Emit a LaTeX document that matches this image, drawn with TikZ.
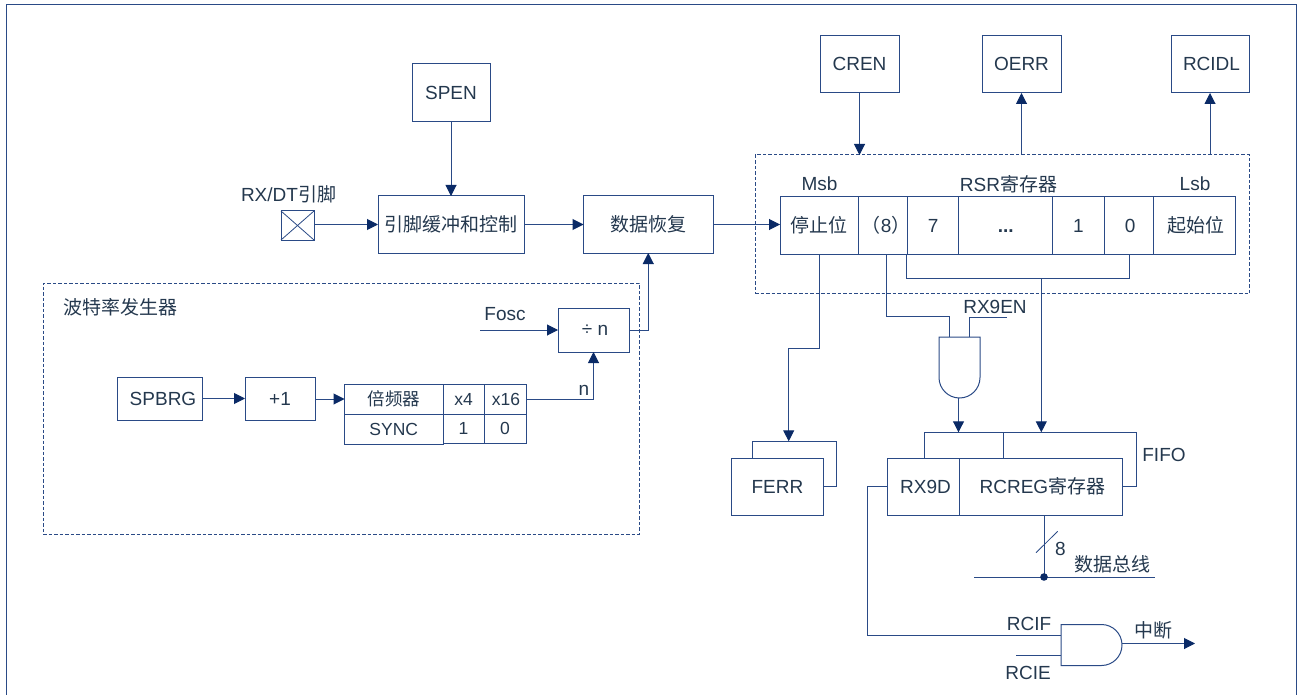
\documentclass[tikz,border=0pt]{standalone}
\usepackage{fontspec}
\setmainfont{Liberation Sans}
\newfontfamily\cjk{Noto Sans CJK SC}
\usetikzlibrary{arrows.meta,calc}
\definecolor{ln}{HTML}{2A4A86}
\definecolor{arr}{HTML}{0A2A66}
\definecolor{tx}{HTML}{24384E}
\tikzset{
  x=1pt,y=-1pt,
  wire/.style={draw=ln,line width=1pt},
  arrw/.style={wire,-{Triangle[length=11pt,width=11pt,color=arr]}},
  dbox/.style={draw=ln,line width=1pt,dash pattern=on 3.5pt off 2pt,inner sep=0pt,outer sep=0pt,anchor=north west},
  cell/.style={draw=ln,line width=1pt,inner sep=0pt,outer sep=0pt,anchor=north west,text=tx,font=\fontsize{19}{22}\selectfont,align=center},
  lab/.style={inner sep=0pt,text=tx,font=\fontsize{19}{22}\selectfont}
}
\newcommand{\cell}[6]{\node[cell,minimum width=#4-#2,minimum height=#5-#3] (#1) at (#2,#3) {#6};}
\newcommand{\tbl}{\fontsize{17.5}{20}\selectfont}
\begin{document}
\begin{tikzpicture}
\useasboundingbox (0,0) rectangle (1298,695);
% frame
\coordinate (fa) at (6,695);
\coordinate (fb) at (6,5);
\coordinate (fc) at (1296.5,5);
\coordinate (fd) at (1296.5,695);
\draw[draw=ln,line width=1pt] (fa) -- (fb) -- (fc) -- (fd);
\node[dbox,minimum width=494.5,minimum height=138.7] (rsr) at (755,155) {};
\node[dbox,minimum width=596,minimum height=251] (baud) at (43,283) {};
% top boxes
\cell{spen}{412}{64}{490}{121.5}{SPEN}
\cell{cren}{820}{36}{899}{93}{\raisebox{1pt}{CREN}}
\cell{oerr}{982}{36}{1061}{93}{\raisebox{1pt}{OERR}}
\cell{rcidl}{1171}{36}{1249}{93}{\hspace{3pt}\raisebox{1pt}{RCIDL}}
% pin
\cell{pin}{281}{211}{314}{240}{}
\draw[wire,line width=.8pt] (pin.north west) -- (pin.south east) (pin.north east) -- (pin.south west);
\cell{buf}{378}{196}{524}{253}{{\cjk 引脚缓冲和控制}}
\cell{rec}{583.5}{196}{713}{253}{{\cjk 数据恢复}}
% RSR
\cell{stop}{780}{197}{858}{254}{{\cjk 停止位}}
\cell{b8}{858}{197}{907.5}{254}{\hspace{7pt}\makebox[0pt]{{\cjk （}8{\cjk ）}}}
\cell{b7}{907.5}{197}{958.7}{254}{7}
\cell{bd}{958.7}{197}{1052.7}{254}{\vphantom{0}\textbf{...}}
\cell{b1}{1052.7}{197}{1104}{254}{1}
\cell{b0}{1104}{197}{1153.3}{254}{\hspace{3pt}0}
\cell{start}{1153.3}{197}{1235.7}{254}{\hspace{2pt}{\cjk 起始位}}
% baud
\cell{div}{558}{308}{629}{352}{\hspace{3pt}÷ n}
\cell{spbrg}{117}{377}{202}{420}{\hspace{7pt}SPBRG}
\cell{inc}{245}{377}{315}{420}{+1}
\cell{mul}{344.5}{384}{443}{414}{{\tbl\cjk 倍频器}}
\cell{x4}{443}{384}{484}{414}{{\tbl x4}}
\cell{x16}{484}{384}{526}{414}{\hspace{2pt}{\tbl x16}}
\cell{sync}{344.5}{414}{443}{444}{{\tbl SYNC}}
\cell{v1}{443}{414}{484}{443}{{\tbl 1}}
\cell{v0}{484}{414}{526}{443}{{\tbl 0}}
% FERR / RCREG
\cell{ferr}{731.3}{458}{823.5}{515}{FERR}
\cell{rx9d}{887.7}{458}{959.3}{515}{\hspace{4pt}RX9D}
\cell{rcreg}{959.3}{458}{1122.5}{515}{\hspace{3pt}RCREG{\cjk 寄存器}}
% labels
\node[lab] (l1) at (288.5,194) {RX/DT{\cjk 引脚}};
\node[lab] (l2) at (120,307) {\cjk 波特率发生器};
\node[lab] (l3) at (505,314) {Fosc};
\node[lab] (l4) at (584,390) {n};
\node[lab] (l5) at (819.5,184) {Msb};
\node[lab] (l6) at (1008.5,184) {RSR{\cjk 寄存器}};
\node[lab] (l7) at (1195,184) {Lsb};
\node[lab] (l8) at (995,306.5) {RX9EN};
\node[lab] (l9) at (1164,455) {FIFO};
\node[lab] (l10) at (1060.5,548.5) {8};
\node[lab] (l11) at (1112.5,564) {\cjk 数据总线};
\node[lab] (l12) at (1029,623.5) {RCIF};
\node[lab] (l13) at (1028,672.5) {RCIE};
\node[lab] (l14) at (1153,630) {\cjk 中断};
% gates
\draw[wire,fill=white] (939,337) -- (980,337) -- (980,377.5) arc[start angle=0,end angle=180,radius=20.5] -- cycle;
\coordinate (gaIn1) at (949.3,337);
\coordinate (gaIn2) at (969,337);
\coordinate (gaOut) at (958.5,398);
\draw[wire,fill=white] (1061,624.5) -- (1101.5,624.5) arc[start angle=-90,end angle=90,radius=20.5] -- (1061,665.5) -- cycle;
\coordinate (gbIn1) at (1061,635);
\coordinate (gbIn2) at (1061,655);
\coordinate (gbOut) at (1122,643.5);
% free ends and junctions
\coordinate (fosc) at (480,330);
\coordinate (out) at (1195,643.5);
\coordinate (rx9enEnd) at (1007,317);
\coordinate (rcieEnd) at (1016,655);
\coordinate (busL) at (974,577);
\coordinate (busR) at (1155,577);
\coordinate (busDot) at (1044,577);
\coordinate (fifoTop) at (958.5,432.3);
\coordinate (fifoTop2) at (1041.3,432.3);
\coordinate (ferrTop) at (788.7,441.3);
% arrows
\draw[arrw] (spen.south) -- (spen.south |- buf.north);
\draw[arrw] (cren.south) -- (cren.south |- rsr.north);
\draw[arrw] (oerr.south |- rsr.north) -- (oerr.south);
\draw[arrw] (rcidl.south |- rsr.north) -- (rcidl.south);
\draw[arrw] (pin.east |- buf.west) -- (buf.west);
\draw[arrw] (buf.east) -- (rec.west);
\draw[arrw] (rec.east) -- (rec.east -| stop.west);
\draw[arrw] (fosc) -- (fosc -| div.west);
\draw[arrw] (fosc -| div.east) -| (rec.south);
\draw[arrw] (spbrg.east) -- (spbrg.east -| inc.west);
\draw[arrw] (inc.east |- mul.west) -- (mul.west);
\draw[arrw] (x16.east) -| (div.south);
% stop to FERR
\draw[arrw] (stop.south) -- (stop.south |- 0,348) -- (ferrTop |- 0,348) -- (ferrTop);
\draw[wire] (752.7,458) -- (752.7,441.3) -- (836.3,441.3) -- (836.3,486.3) -- (ferr.east |- 0,486.3);
% bit bus
\draw[wire] (906.3,254) -- (906.3,278.3) -- (1129.3,278.3) -- (1129.3,254);
\draw[arrw] (1041.3,278.3) -- (fifoTop2);
% AND gate 1
\draw[wire] (886.3,254) -- (886.3,316.7) -- (gaIn1 |- 0,316.7) -- (gaIn1);
\draw[wire] (gaIn2) -- (gaIn2 |- rx9enEnd) -- (rx9enEnd);
\draw[arrw] (gaOut) -- (fifoTop);
% FIFO
\draw[wire] (924,458) -- (924,432.3) -- (1136.3,432.3) -- (1136.3,486.3) -- (rcreg.east |- 0,486.3);
\draw[wire] (1003.7,432.3) -- (1003.7,458);
% data bus
\draw[wire] (busDot |- rcreg.south) -- (busDot);
\draw[wire,line width=.8pt] (1036,552.7) -- (1057.7,531.3);
\draw[wire] (busL) -- (busR);
\fill[arr] (busDot) circle (3.8);
% RCIF
\draw[wire] (rx9d.west) -- (867.7,0 |- rx9d.west) -- (867.7,635) -- (gbIn1);
\draw[wire] (rcieEnd) -- (gbIn2);
\draw[arrw] (gbOut) -- (out);
\end{tikzpicture}
\end{document}
